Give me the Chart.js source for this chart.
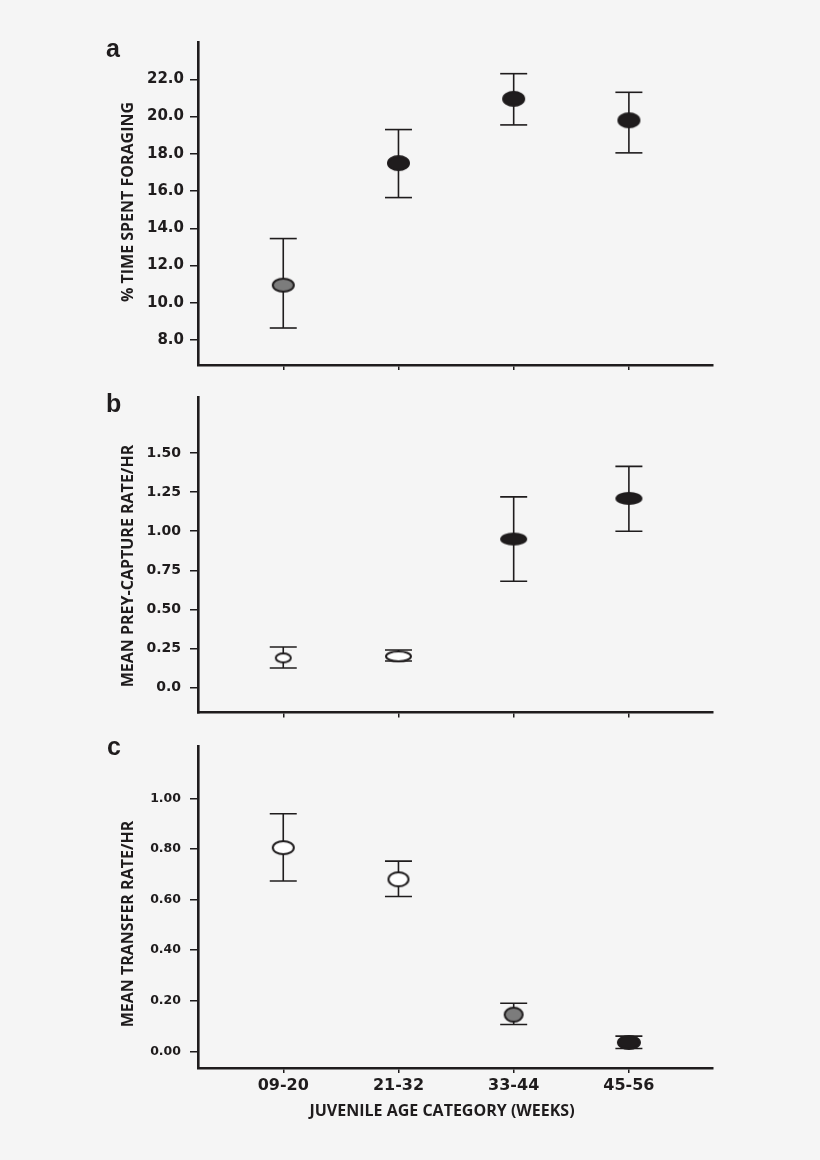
<!DOCTYPE html>
<html>
<head>
<meta charset="utf-8">
<script src="https://cdn.jsdelivr.net/npm/chart.js"></script>
<style>
  html, body { margin: 0; padding: 0; background: #f5f5f5; }
  #wrap { position: relative; width: 820px; height: 1160px; background: #f5f5f5; }
  #wrap canvas { position: absolute; left: 0; }
</style>
</head>
<body>
<div id="wrap">
  <canvas id="chartA" width="820" height="380" style="top:0px"></canvas>
  <canvas id="chartB" width="820" height="350" style="top:380px"></canvas>
  <canvas id="chartC" width="820" height="430" style="top:730px"></canvas>
</div>
<script>
// data
const categories = ['09-20', '21-32', '33-44', '45-56'];

const foragingMean = [10.95, 17.5, 20.95, 19.8];
const foragingLow = [8.65, 15.65, 19.55, 18.05];
const foragingHigh = [13.45, 19.3, 22.3, 21.3];

const preyMean = [0.19, 0.2, 0.95, 1.21];
const preyLow = [0.125, 0.17, 0.68, 1.0];
const preyHigh = [0.26, 0.24, 1.22, 1.415];

const transferMean = [0.805, 0.68, 0.145, 0.035];
const transferLow = [0.673, 0.612, 0.106, 0.011];
const transferHigh = [0.939, 0.752, 0.19, 0.06];

const foragingTicks = [8, 10, 12, 14, 16, 18, 20, 22];
const foragingTickLabels = ['8.0', '10.0', '12.0', '14.0', '16.0', '18.0', '20.0', '22.0'];
const preyTicks = [0, 0.25, 0.5, 0.75, 1, 1.25, 1.5];
const preyTickLabels = ['0.0', '0.25', '0.50', '0.75', '1.00', '1.25', '1.50'];
const transferTicks = [0, 0.2, 0.4, 0.6, 0.8, 1.0];
const transferTickLabels = ['0.00', '0.20', '0.40', '0.60', '0.80', '1.00'];

// styling
const INK = '#1f1c1d';
const WHITE = '#ffffff';
const GREY = '#7c7c7c';
const TICK_FONT = 'DejaVu Sans';
const TITLE_FONT = "'Open Sans', 'DejaVu Sans', sans-serif";

function ellipseMarker(w, h, fill) {
    const c = document.createElement('canvas');
    c.width = w + 4;
    c.height = h + 4;
    const g = c.getContext('2d');
    g.beginPath();
    g.ellipse(c.width / 2, c.height / 2, w / 2, h / 2, 0, 0, Math.PI * 2);
    g.fillStyle = fill;
    g.fill();
    g.lineWidth = 2;
    g.strokeStyle = INK;
    g.stroke();
    return c;
}

// panel letter, rotated y title and (bottom panel) x title
const panelText = {
    id: 'panelText',
    afterDraw(chart, args, o) {
        const ctx = chart.ctx;
        ctx.save();
        ctx.fillStyle = INK;
        ctx.font = "bold 25px 'Liberation Sans', Arial, sans-serif";
        ctx.textAlign = 'left';
        ctx.textBaseline = 'alphabetic';
        ctx.fillText(o.letter, o.letterX, o.letterY);
        if (o.xTitle) {
            ctx.font = `bold 16px ${TITLE_FONT}`;
            ctx.textAlign = 'center';
            ctx.textBaseline = 'middle';
            ctx.fillText(o.xTitle, o.xTitleX, o.xTitleY);
        }
        ctx.translate(o.titleX, o.titleY);
        ctx.rotate(-Math.PI / 2);
        ctx.font = `bold 16px ${TITLE_FONT}`;
        ctx.textAlign = 'center';
        ctx.textBaseline = 'middle';
        ctx.fillText(o.title, 0, 0);
        ctx.restore();
    }
};

function makePanel(id, p) {
    const means = {
        data: p.mean.map((v, i) => ({ x: i, y: v })),
        pointStyle: p.markers,
        pointRadius: 8,
        showLine: false
    };
    const whiskers = categories.map((c, i) => ({
        data: [{ x: i, y: p.low[i] }, { x: i, y: p.high[i] }],
        showLine: true,
        borderColor: INK,
        borderWidth: 1.6,
        pointStyle: 'line',
        pointRadius: 13.5,
        pointBorderColor: INK,
        pointBorderWidth: 1.6
    }));

    new Chart(document.getElementById(id), {
        type: 'scatter',
        data: { datasets: [means, ...whiskers] },
        plugins: [panelText],
        options: {
            responsive: false,
            animation: false,
            layout: { padding: { top: p.padTop, right: 107, bottom: 0, left: 0 } },
            plugins: {
                legend: { display: false },
                tooltip: { enabled: false },
                panelText: p.text
            },
            scales: {
                x: {
                    type: 'linear',
                    min: -0.74,
                    max: 3.73,
                    afterBuildTicks: s => { s.ticks = categories.map((c, i) => ({ value: i })); },
                    afterFit: s => { s.height = p.xHeight; },
                    ticks: {
                        display: p.showX,
                        autoSkip: false,
                        maxRotation: 0,
                        padding: 3,
                        color: INK,
                        font: { family: TICK_FONT, weight: 'bold', size: 16 },
                        callback: (v, i) => categories[i]
                    },
                    grid: { drawOnChartArea: false, drawTicks: true, tickLength: 5, color: INK, lineWidth: 1.5 },
                    border: { display: true, color: INK, width: 2.6 }
                },
                y: {
                    min: p.yMin,
                    max: p.yMax,
                    afterBuildTicks: s => { s.ticks = p.ticks.map(v => ({ value: v })); },
                    afterFit: s => { s.width = 198; },
                    ticks: {
                        autoSkip: false,
                        padding: p.tickPad,
                        color: INK,
                        font: { family: TICK_FONT, weight: 'bold', size: p.tickSize },
                        callback: (v, i) => p.tickLabels[i]
                    },
                    grid: { drawOnChartArea: false, drawTicks: true, tickLength: 8, color: INK, lineWidth: 1.5 },
                    border: { display: true, color: INK, width: 2.6 }
                }
            }
        }
    });
}

makePanel('chartA', {
    mean: foragingMean, low: foragingLow, high: foragingHigh,
    ticks: foragingTicks, tickLabels: foragingTickLabels,
    yMin: 6.67, yMax: 24.0,
    markers: [ellipseMarker(21, 13, GREY), ellipseMarker(21, 14, INK), ellipseMarker(21, 14, INK), ellipseMarker(21, 14, INK)],
    padTop: 42, xHeight: 11, showX: false, tickSize: 15, tickPad: 6,
    text: { letter: 'a', letterX: 106, letterY: 57, title: '% TIME SPENT FORAGING', titleX: 128, titleY: 202 }
});

makePanel('chartB', {
    mean: preyMean, low: preyLow, high: preyHigh,
    ticks: preyTicks, tickLabels: preyTickLabels,
    yMin: -0.16, yMax: 1.856,
    markers: [ellipseMarker(15, 9, WHITE), ellipseMarker(25, 10, WHITE), ellipseMarker(25, 11, INK), ellipseMarker(25, 11, INK)],
    padTop: 13, xHeight: 10, showX: false, tickSize: 14, tickPad: 9,
    text: { letter: 'b', letterX: 106, letterY: 32, title: 'MEAN PREY-CAPTURE RATE/HR', titleX: 128, titleY: 186 }
});

makePanel('chartC', {
    mean: transferMean, low: transferLow, high: transferHigh,
    ticks: transferTicks, tickLabels: transferTickLabels,
    yMin: -0.066, yMax: 1.205,
    markers: [ellipseMarker(21, 13, WHITE), ellipseMarker(20, 14, WHITE), ellipseMarker(18, 14, GREY), ellipseMarker(22, 13, INK)],
    padTop: 12, xHeight: 92, showX: true, tickSize: 12.5, tickPad: 9,
    text: {
        letter: 'c', letterX: 107, letterY: 25, title: 'MEAN TRANSFER RATE/HR', titleX: 128, titleY: 194,
        xTitle: 'JUVENILE AGE CATEGORY (WEEKS)', xTitleX: 442, xTitleY: 381
    }
});
</script>
</body>
</html>
